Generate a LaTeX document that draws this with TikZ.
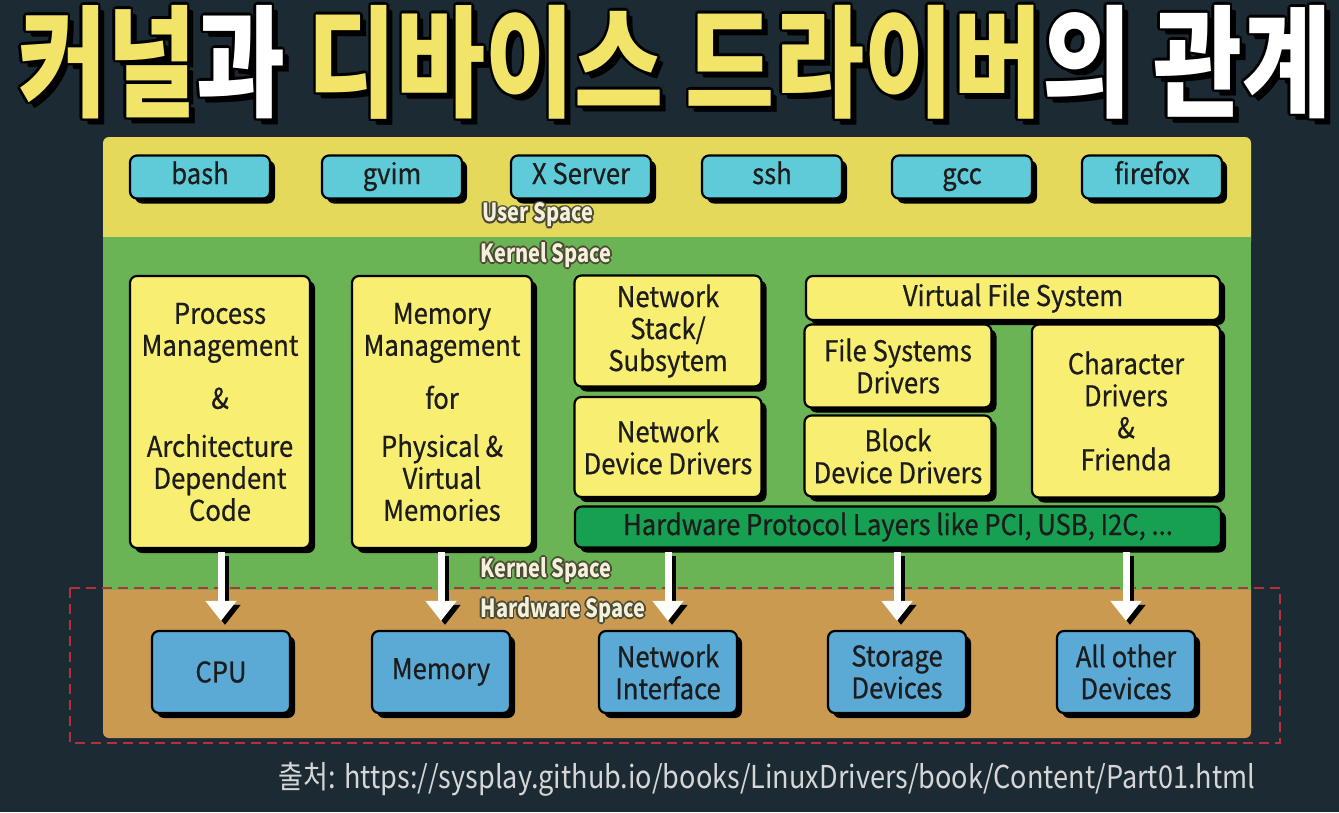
\documentclass[tikz,border=0pt]{standalone}
\usepackage{fontspec}
\usetikzlibrary{arrows.meta,shadows,positioning}
\newfontfamily\krfont{Noto Sans CJK KR}[FakeStretch=0.9, FakeBold=0.6]
\newfontfamily\srcfont{Noto Sans CJK KR}[FakeStretch=0.86]
\newfontfamily\titlefont{Noto Sans CJK KR}[FakeStretch=0.8]
\definecolor{bgnavy}{HTML}{1B2A33}
\definecolor{userpanel}{HTML}{E5D95B}
\definecolor{kernelpanel}{HTML}{6BB456}
\definecolor{hwpanel}{HTML}{C99A50}
\definecolor{appcyan}{HTML}{5FCBD8}
\definecolor{kernyellow}{HTML}{F8EE72}
\definecolor{protogreen}{HTML}{17A052}
\definecolor{devblue}{HTML}{5BAAD6}
\definecolor{titleyellow}{HTML}{F2E468}
\definecolor{dashred}{HTML}{B5303A}
\definecolor{inkdark}{HTML}{1C1C1C}
\definecolor{lblcream}{HTML}{F4F0DC}
\definecolor{lbledge}{HTML}{4B4A33}
\definecolor{srcgrey}{HTML}{D6D6D6}
\newcommand\titletxt[2]{{\color{#1}커널}{\color{#2}과} {\color{#1}디바이스 드라이버}{\color{#2}의 관계}}
\tikzset{
  shadowbox/.style={rounded corners=7pt, draw=black, line width=2.2pt, text=inkdark, align=center,
    drop shadow={shadow xshift=5pt, shadow yshift=-5pt, opacity=1, fill=black},
    font=\krfont\fontsize{28.5}{32}\selectfont},
  appbox/.style={shadowbox, fill=appcyan, minimum width=140pt, minimum height=43pt, text height=20pt, text depth=6pt},
  kernbox/.style={shadowbox, fill=kernyellow},
  devbox/.style={shadowbox, fill=devblue, minimum width=138pt, minimum height=82pt},
  protobar/.style={shadowbox, fill=protogreen, minimum width=646pt, minimum height=41pt},
  spacelbl/.style={font=\titlefont\bfseries\fontsize{25}{25}\selectfont, text=lblcream},
  downarrow/.style={line width=7pt, white, -{Triangle[length=20pt,width=30pt]}, shorten <=3pt, shorten >=9pt},
  downshadow/.style={downarrow, black, transform canvas={xshift=4pt,yshift=-4pt}},
}

\begin{document}
\begin{tikzpicture}[x=1pt,y=-1pt]
\useasboundingbox (0,0) rectangle (1339,812);
\fill[bgnavy] (0,0) rectangle (1339,812);

% title
\foreach \ox/\oy in {5/5,6/6,-2.5/0,2.5/0,0/-2.5,0/2.5,-2/-2,2/2,-2/2,2/-2}
  \node[font=\titlefont\bfseries\fontsize{121}{121}\selectfont] at (675+\ox,62+\oy) {\titletxt{black}{black}};
\node[font=\titlefont\bfseries\fontsize{121}{121}\selectfont] (title) at (675,62) {\titletxt{titleyellow}{white}};

% panels
\fill[userpanel, rounded corners=6pt] (103,137) rectangle (1251,248);
\fill[hwpanel, rounded corners=6pt] (103,580) rectangle (1251,738);
\fill[kernelpanel] (103,237) rectangle (1251,590);
\draw[dashred, line width=2.4pt, dash pattern=on 10pt off 6pt] (70,588) rectangle (1280,743);

% user space
\node[appbox] (bash) at (200,177) {bash};
\node[appbox] (gvim) at (392,177) {gvim};
\node[appbox] (xserver) at (581,177) {X Server};
\node[appbox] (ssh) at (772,177) {ssh};
\node[appbox] (gcc) at (962,177) {gcc};
\node[appbox] (firefox) at (1152,177) {firefox};

% kernel space
\node[kernbox, minimum width=180pt, minimum height=272pt] (proc) at (220,412)
  {Process\\Management\\[21pt]\&\\[16pt]Architecture\\Dependent\\Code};
\node[kernbox, minimum width=180pt, minimum height=272pt] (mem) at (442,412)
  {Memory\\Management\\[21pt]for\\[16pt]Physical \&\\Virtual\\Memories};
\node[kernbox, minimum width=187pt, minimum height=111pt] (netstack) at (668,331) {Network\\Stack/\\Subsytem};
\node[kernbox, minimum width=187pt, minimum height=100pt] (netdrv) at (668,447) {Network\\Device Drivers};
\node[kernbox, minimum width=414pt, minimum height=44pt] (vfs) at (1013,298) {Virtual File System};
\node[kernbox, minimum width=187pt, minimum height=83pt] (fsdrv) at (898,366) {File Systems\\Drivers};
\node[kernbox, minimum width=187pt, minimum height=81pt] (blkdrv) at (898,456) {Block\\Device Drivers};
\node[kernbox, minimum width=188pt, minimum height=173pt] (chrdrv) at (1126,411) {Character\\Drivers\\\&\\Frienda};
\node[protobar] (hwproto) at (898,527) {Hardware Protocol Layers like PCI, USB, I2C, ...};

% hardware space
\node[devbox] (cpu) at (221,672) {CPU};
\node[devbox] (memory) at (441,672) {Memory};
\node[devbox] (netif) at (668,672) {Network\\Interface};
\node[devbox] (storage) at (897,672) {Storage\\Devices};
\node[devbox] (other) at (1126,672) {All other\\Devices};

\foreach \src/\dst in {proc/cpu, mem/memory, hwproto/netif, hwproto/storage, hwproto/other}{
  \draw[downshadow] (\src.south -| \dst) -- (\dst.north);
  \draw[downarrow] (\src.south -| \dst) -- (\dst.north);
}

% space labels
\foreach \lx/\ly/\ltxt/\lname in {538/215/User Space/userlbl, 546/255/Kernel Space/kernlbl, 546/570/Kernel Space/kernlbllow, 563/610/Hardware Space/hwlbl}{
  \foreach \ox/\oy in {-1.8/0,1.8/0,0/-1.8,0/1.8,-1.3/-1.3,1.3/1.3,-1.3/1.3,1.3/-1.3}
    \node[spacelbl, text=lbledge] at (\lx+\ox,\ly+\oy) {\ltxt};
  \node[spacelbl] (\lname) at (\lx,\ly) {\ltxt};
}

\node[font=\srcfont\fontsize{31.5}{31.5}\selectfont, text=srcgrey] (source) at (767,779)
  {출처: https://sysplay.github.io/books/LinuxDrivers/book/Content/Part01.html};
\end{tikzpicture}
\end{document}
